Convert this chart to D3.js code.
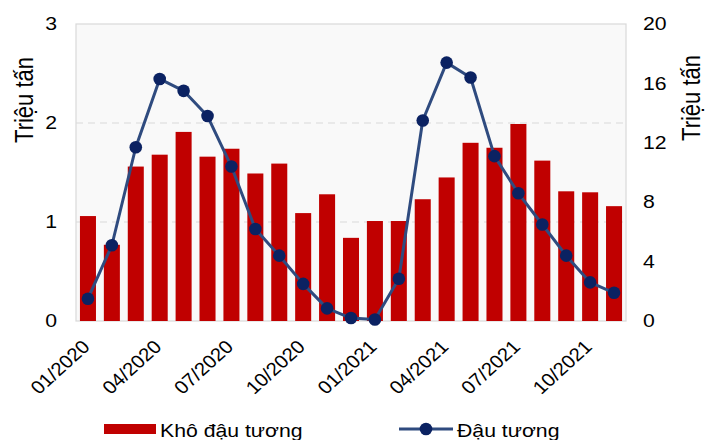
<!DOCTYPE html>
<html>
<head>
<meta charset="utf-8">
<style>
  body { margin: 0; background: #fff; }
  svg { font-family: "Liberation Sans", Arial, sans-serif; }
</style>
</head>
<body>
<svg width="706" height="440"></svg>
<script src="https://d3js.org/d3.v7.min.js"></script>
<script>

// monthly data 01/2020 - 11/2021
var months = ["01/2020","02/2020","03/2020","04/2020","05/2020","06/2020","07/2020","08/2020","09/2020","10/2020","11/2020","12/2020",
              "01/2021","02/2021","03/2021","04/2021","05/2021","06/2021","07/2021","08/2021","09/2021","10/2021","11/2021"];
var meal = [1.06, 0.77, 1.56, 1.68, 1.91, 1.66, 1.74, 1.49, 1.59, 1.09, 1.28, 0.84,
            1.01, 1.01, 1.23, 1.45, 1.80, 1.75, 1.99, 1.62, 1.31, 1.30, 1.16];
var beans = [1.5, 5.1, 11.7, 16.3, 15.5, 13.8, 10.4, 6.2, 4.4, 2.5, 0.85, 0.2,
             0.1, 2.85, 13.5, 17.4, 16.4, 11.1, 8.6, 6.5, 4.4, 2.6, 1.9];
var leftTicks = [0, 1, 2, 3];
var rightTicks = [0, 4, 8, 12, 16, 20];
var shownLabels = ["01/2020","04/2020","07/2020","10/2020","01/2021","04/2021","07/2021","10/2021"];

// the picture is a bit wider than tall, text looks stretched sideways
var sx = 1.18;

var svg = d3.select("svg"),
    margin = {top: 24, right: 80, bottom: 119, left: 76},
    width = +svg.attr("width") - margin.left - margin.right,
    height = +svg.attr("height") - margin.top - margin.bottom,
    g = svg.append("g").attr("transform", "translate(" + margin.left + "," + margin.top + ")");

var x = d3.scaleBand().domain(months).range([0, width]).paddingInner(0.33).paddingOuter(0.165);
var yL = d3.scaleLinear().domain([0, 3]).range([height, 0]);
var yR = d3.scaleLinear().domain([0, 20]).range([height, 0]);

// plot area
g.append("rect")
    .attr("width", width)
    .attr("height", height)
    .attr("fill", "#f9f9f9")
    .attr("stroke", "#d9d9d9")
    .attr("stroke-width", 1.2);

g.selectAll(".grid")
  .data([1, 2])
  .enter().append("line")
    .attr("x1", 0).attr("x2", width)
    .attr("y1", function(d) { return yL(d); })
    .attr("y2", function(d) { return yL(d); })
    .attr("stroke", "#d9d9d9")
    .attr("stroke-width", 1.2)
    .style("stroke-dasharray", "7,5");

// bars
g.selectAll(".bar")
  .data(meal)
  .enter().append("rect")
    .attr("x", function(d, i) { return x(months[i]); })
    .attr("y", function(d) { return yL(d); })
    .attr("width", x.bandwidth())
    .attr("height", function(d) { return height - yL(d); })
    .attr("fill", "#c00000");

// line
var line = d3.line()
    .x(function(d, i) { return x(months[i]) + x.bandwidth() / 2; })
    .y(function(d) { return yR(d); });

g.append("path")
    .datum(beans)
    .attr("fill", "none")
    .attr("stroke", "#2f4b7f")
    .attr("stroke-width", 3)
    .attr("stroke-linejoin", "round")
    .attr("d", line);

g.selectAll(".dot")
  .data(beans)
  .enter().append("circle")
    .attr("cx", function(d, i) { return x(months[i]) + x.bandwidth() / 2; })
    .attr("cy", function(d) { return yR(d); })
    .attr("r", 6.3)
    .attr("fill", "#0b2262");

// axes
var leftAxis = g.append("g")
    .call(d3.axisLeft(yL).tickValues(leftTicks).tickSize(0).tickFormat(d3.format("d")));
var rightAxis = g.append("g")
    .attr("transform", "translate(" + width + ",0)")
    .call(d3.axisRight(yR).tickValues(rightTicks).tickSize(0).tickFormat(d3.format("d")));
leftAxis.selectAll("text").attr("x", 0).attr("transform", "translate(-19,0) scale(" + sx + ",1)");
rightAxis.selectAll("text").attr("x", 0).attr("transform", "translate(17,0) scale(" + sx + ",1)");
[leftAxis, rightAxis].forEach(function(a) {
  a.select(".domain").remove();
  a.selectAll("text").attr("font-size", 18).attr("fill", "#000")
      .attr("font-family", "'Liberation Sans', Arial, sans-serif");
});

// x labels
g.selectAll(".xlab")
  .data(shownLabels)
  .enter().append("text")
    .attr("transform", function(d) {
      return "translate(" + (x(d) + x.bandwidth() / 2 + 3) + "," + (height + 27) + ") scale(1.1,1) rotate(-45)";
    })
    .attr("text-anchor", "end")
    .attr("font-size", 18.5)
    .attr("fill", "#000")
    .text(function(d) { return d; });

// axis titles
svg.append("text")
    .attr("transform", "translate(33,100) scale(" + sx + ",1) rotate(-90)")
    .attr("text-anchor", "middle")
    .attr("font-size", 22)
    .text("Triệu tấn");
svg.append("text")
    .attr("transform", "translate(700,98) scale(" + sx + ",1) rotate(-90)")
    .attr("text-anchor", "middle")
    .attr("font-size", 22)
    .text("Triệu tấn");

// legend
var legend = svg.append("g");
legend.append("rect")
    .attr("x", 104).attr("y", 424).attr("width", 52).attr("height", 10)
    .attr("fill", "#c00000");
legend.append("text")
    .attr("transform", "translate(160,437) scale(" + sx + ",1)")
    .attr("font-size", 18)
    .text("Khô đậu tương");
legend.append("line")
    .attr("x1", 399).attr("x2", 453).attr("y1", 429).attr("y2", 429)
    .attr("stroke", "#2f4b7f").attr("stroke-width", 3);
legend.append("circle")
    .attr("cx", 426).attr("cy", 429).attr("r", 6.3)
    .attr("fill", "#0b2262");
legend.append("text")
    .attr("transform", "translate(457,437) scale(" + sx + ",1)")
    .attr("font-size", 18)
    .text("Đậu tương");

</script>
</body>
</html>
